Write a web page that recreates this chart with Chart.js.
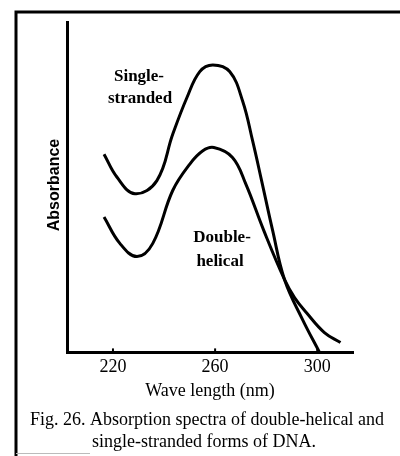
<!DOCTYPE html>
<html>
<head>
<meta charset="utf-8">
<script src="https://cdn.jsdelivr.net/npm/chart.js@4/dist/chart.umd.min.js"></script>
<style>
  html, body { margin: 0; padding: 0; background: #fff; }
  #wrap { width: 400px; height: 456px; }
</style>
</head>
<body>
<div id="wrap"><canvas id="dnaChart" width="400" height="456"></canvas></div>
<script>
// Wavelength (nm) / relative absorbance
const singleWl  = [216.5, 221.6, 228.6, 237.2, 243.4, 248.9, 254.0, 259.1, 265.7, 270.8, 274.7, 278.2, 282.5, 287.2, 294.2, 300.9];
const singleAbs = [0.60, 0.53, 0.48, 0.52, 0.66, 0.77, 0.85, 0.87, 0.85, 0.76, 0.64, 0.52, 0.37, 0.22, 0.10, 0.00];

const doubleWl  = [216.5, 222.7, 229.4, 235.6, 243.4, 250.1, 255.2, 259.5, 266.8, 272.0, 279.0, 287.2, 291.1, 295.8, 302.8, 309.1];
const doubleAbs = [0.41, 0.33, 0.29, 0.33, 0.49, 0.57, 0.61, 0.62, 0.59, 0.51, 0.37, 0.22, 0.166, 0.12, 0.06, 0.03];

const xTicks = [220, 260, 300];

const curveLabels = [
    { text: 'Single-',  x: 139, y: 77 },
    { text: 'stranded', x: 140, y: 99 },
    { text: 'Double-',  x: 222, y: 238 },
    { text: 'helical',  x: 220, y: 262 }
];
const captionLines = [
    'Fig. 26. Absorption spectra of double-helical and',
    'single-stranded forms of DNA.'
];

const toPoints = (xs, ys) => xs.map((x, i) => ({ x: x, y: ys[i] }));

// Frame, inner tick marks and all the figure texts
const figureText = {
    id: 'figureText',
    afterDraw(chart) {
        const ctx = chart.ctx;
        const xs = chart.scales.x;
        const area = chart.chartArea;
        ctx.save();

        // page frame (left + top)
        ctx.strokeStyle = '#000';
        ctx.lineWidth = 3;
        ctx.beginPath();
        ctx.moveTo(16, 456);
        ctx.lineTo(16, 12);
        ctx.lineTo(400, 12);
        ctx.stroke();
        ctx.strokeStyle = '#bbb';
        ctx.lineWidth = 1;
        ctx.beginPath();
        ctx.moveTo(16, 453.5);
        ctx.lineTo(90, 453.5);
        ctx.stroke();

        // small tick marks pointing up into the plot
        ctx.strokeStyle = '#000';
        ctx.lineWidth = 2;
        xTicks.forEach(v => {
            const px = xs.getPixelForValue(v);
            ctx.beginPath();
            ctx.moveTo(px, area.bottom);
            ctx.lineTo(px, area.bottom - 4);
            ctx.stroke();
        });

        ctx.fillStyle = '#000';
        ctx.textAlign = 'center';
        ctx.textBaseline = 'middle';

        ctx.font = 'bold 17px "Liberation Serif"';
        curveLabels.forEach(l => ctx.fillText(l.text, l.x, l.y));

        ctx.font = '18px "Liberation Serif"';
        ctx.fillText('Wave length (nm)', 210, 391);
        ctx.fillText(captionLines[0], 207, 420);
        ctx.fillText(captionLines[1], 204, 442);

        ctx.save();
        ctx.translate(55, 185);
        ctx.rotate(-Math.PI / 2);
        ctx.font = 'bold 16px "Liberation Sans"';
        ctx.fillText('Absorbance', 0, 0);
        ctx.restore();

        ctx.restore();
    }
};

new Chart(document.getElementById('dnaChart').getContext('2d'), {
    type: 'line',
    data: {
        datasets: [
            {
                label: 'Single-stranded',
                data: toPoints(singleWl, singleAbs),
                borderColor: '#000',
                borderWidth: 3,
                pointRadius: 0,
                tension: 0.4,
                fill: false
            },
            {
                label: 'Double-helical',
                data: toPoints(doubleWl, doubleAbs),
                borderColor: '#000',
                borderWidth: 3,
                pointRadius: 0,
                tension: 0.4,
                fill: false
            }
        ]
    },
    options: {
        responsive: false,
        animation: false,
        events: [],
        layout: { padding: { left: 67, top: 22, right: 47, bottom: 74 } },
        plugins: {
            legend: { display: false },
            tooltip: { enabled: false },
            title: { display: false }
        },
        scales: {
            x: {
                type: 'linear',
                min: 202,
                max: 314,
                afterBuildTicks: s => { s.ticks = xTicks.map(v => ({ value: v })); },
                grid: { display: false, drawTicks: false },
                border: { display: true, color: '#000', width: 3 },
                ticks: {
                    color: '#000',
                    padding: 4,
                    maxRotation: 0,
                    autoSkip: false,
                    font: { family: '"Liberation Serif"', size: 18 }
                }
            },
            y: {
                min: 0,
                max: 1,
                afterFit: s => { s.width = 0; },
                grid: { display: false, drawTicks: false },
                border: { display: true, color: '#000', width: 3 },
                ticks: { display: false }
            }
        }
    },
    plugins: [figureText]
});
</script>
</body>
</html>
